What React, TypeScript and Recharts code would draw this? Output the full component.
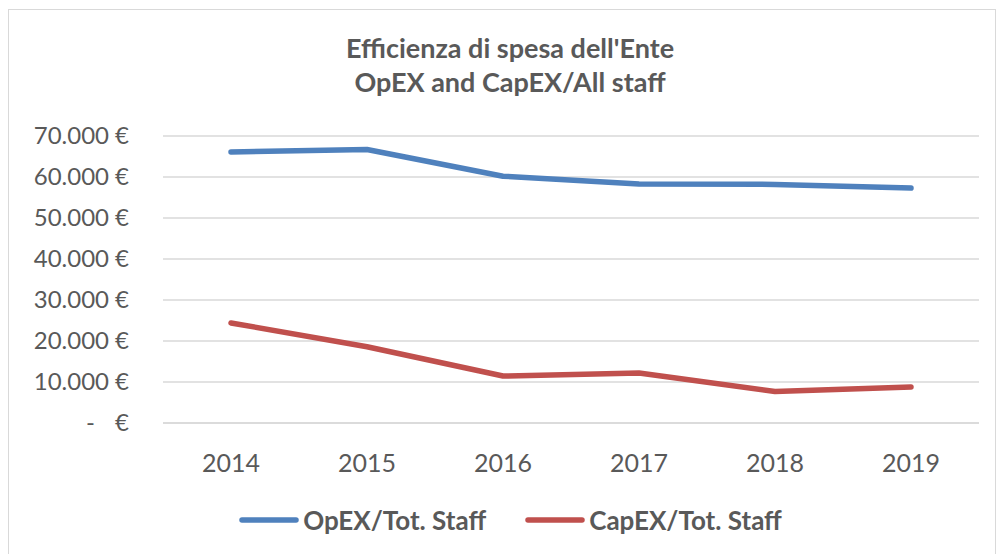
import React from 'react';
import { LineChart, Line, XAxis, YAxis, CartesianGrid, Legend } from 'recharts';

const years = ['2014', '2015', '2016', '2017', '2018', '2019'];
const opexPerStaff = [66100, 66700, 60200, 58300, 58200, 57300];
const capexPerStaff = [24400, 18600, 11450, 12200, 7700, 8800];
const yTicks = [0, 10000, 20000, 30000, 40000, 50000, 60000, 70000];
const seriesNames = ['OpEX/Tot. Staff', 'CapEX/Tot. Staff'];
const titleLines = ["Efficienza di spesa dell'Ente", 'OpEX and CapEX/All staff'];

const data = years.map((y, i) => ({ year: y, opex: opexPerStaff[i], capex: capexPerStaff[i] }));

const FONT = 'Lato, "Open Sans", sans-serif';
const TEXT = '#595959';
const BLUE = '#4f81bd';
const RED = '#c0504d';

const fmt = (v: number) => v.toLocaleString('de-DE');

const YTick = (props: any) => {
  const { x, y, payload } = props;
  const v = payload.value as number;
  return (
    <g>
      {v === 0 ? (
        <text x={x - 34} y={y} dy="0.35em" textAnchor="end" fill={TEXT} fontSize={24} fontFamily={FONT}>-</text>
      ) : (
        <text x={x - 20} y={y} dy="0.35em" textAnchor="end" fill={TEXT} fontSize={24} fontFamily={FONT}>{fmt(v)}</text>
      )}
      <text x={x} y={y} dy="0.35em" textAnchor="end" fill={TEXT} fontSize={24} fontFamily={FONT}>€</text>
    </g>
  );
};

const LegendContent = () => (
  <div style={{ display: 'flex', justifyContent: 'center', alignItems: 'center', height: 40, fontFamily: FONT, fontWeight: 700, fontSize: 26, color: TEXT, paddingLeft: 42 }}>
    {[BLUE, RED].map((c, i) => (
      <div key={i} style={{ display: 'flex', alignItems: 'center', marginRight: i === 0 ? 39 : 0 }}>
        <svg width={60} height={10} style={{ marginRight: 4 }}>
          <line x1={3} y1={5} x2={57} y2={5} stroke={c} strokeWidth={5.5} strokeLinecap="round" />
        </svg>
        <span>{seriesNames[i]}</span>
      </div>
    ))}
  </div>
);

export default function App() {
  return (
    <div style={{ position: 'absolute', left: 0, top: 0, width: 998, height: 554, background: '#fff', overflow: 'hidden' }}>
      <div style={{ position: 'absolute', left: 8, top: 9, width: 986, height: 560, border: '1.5px solid #d9d9d9' }} />
      <div style={{ position: 'absolute', left: 0, top: 31, width: 1020, textAlign: 'center', fontFamily: FONT, fontWeight: 700, fontSize: 27, color: TEXT, lineHeight: '34px' }}>
        <div>{titleLines[0]}</div>
        <div>{titleLines[1]}</div>
      </div>
      <div style={{ position: 'absolute', left: 0, top: 0 }}>
        <LineChart width={998} height={554} data={data} margin={{ top: 136, right: 19, left: 0, bottom: 14 }}>
          <CartesianGrid vertical={false} stroke="#d9d9d9" strokeWidth={1.3} />
          <XAxis
            dataKey="year"
            height={77}
            tickSize={0}
            tickMargin={31}
            padding={{ left: 68, right: 68 }}
            axisLine={{ stroke: '#d9d9d9', strokeWidth: 1.3 }}
            tickLine={false}
            tick={{ fill: TEXT, fontSize: 25, fontFamily: FONT }}
          />
          <YAxis
            width={163}
            domain={[0, 70000]}
            ticks={yTicks}
            axisLine={false}
            tickLine={false}
            tickSize={0}
            tickMargin={34}
            tick={<YTick />}
            interval={0}
          />
          <Legend verticalAlign="bottom" height={40} content={<LegendContent />} />
          <Line type="linear" dataKey="opex" name={seriesNames[0]} stroke={BLUE} strokeWidth={5.5} strokeLinecap="round" strokeLinejoin="round" dot={false} isAnimationActive={false} />
          <Line type="linear" dataKey="capex" name={seriesNames[1]} stroke={RED} strokeWidth={5.5} strokeLinecap="round" strokeLinejoin="round" dot={false} isAnimationActive={false} />
        </LineChart>
      </div>
    </div>
  );
}
